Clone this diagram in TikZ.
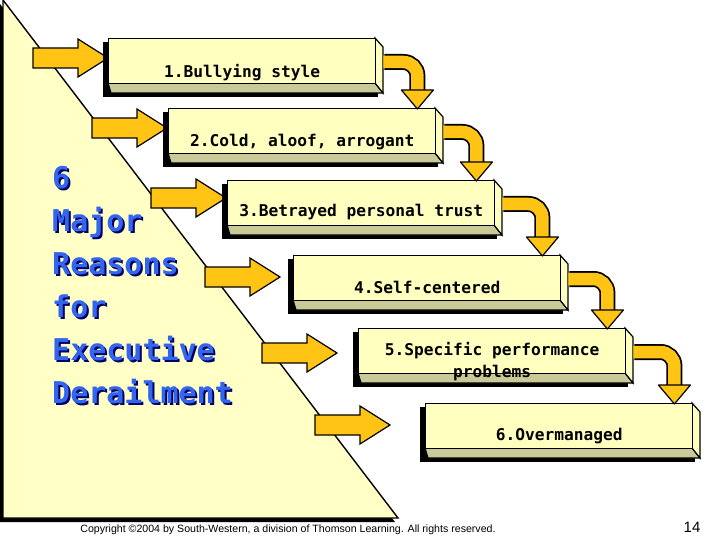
\documentclass[tikz,border=0pt]{standalone}
\usepackage{fontspec}
\setmainfont{Liberation Sans}
\newfontfamily\boxfont{DejaVu Sans Mono}
\newfontfamily\titlefont{DejaVu Sans Mono}
\usetikzlibrary{calc}
\definecolor{arrowyel}{HTML}{FFC414}
\definecolor{faceyel}{HTML}{FFFFC0}
\definecolor{bandkh}{HTML}{CACA98}
\definecolor{triyel}{HTML}{FFFFC6}
\definecolor{titleblue}{HTML}{3366EE}
\tikzset{
  face/.style={draw=black,line width=1.4pt,fill=faceyel,rectangle,minimum width=267pt,minimum height=45pt,inner sep=0pt,anchor=north west},
  blockarrow/.style={draw=black,line width=1.2pt,fill=arrowyel,line join=miter},
  lab/.style={font=\boxfont\bfseries\fontsize{16.2}{18}\selectfont,align=center,inner sep=0pt},
  ttl/.style={font=\titlefont\bfseries\fontsize{30}{43}\selectfont,align=left,anchor=north west,inner sep=0pt}
}
\begin{document}
\begin{tikzpicture}[x=1pt,y=-1pt]
\useasboundingbox (0,0) rectangle (720,540);
\fill[white] (0,0) rectangle (720,540);
% triangle
\fill[black] (0,4) -- (395,522) -- (0,522) -- cycle;
\filldraw[fill=triyel,draw=black,line width=1.4pt] (3,0) -- (398,518) -- (3,518) -- cycle;
% title (with its shadow)
\node[ttl,text=black!60!blue] (tsh) at (54,168) {6\\Major\\Reasons\\for\\Executive\\Derailment};
\node[ttl,text=titleblue] (title) at (52,166) {6\\Major\\Reasons\\for\\Executive\\Derailment};
% arrows
\foreach \i/\x/\y in {1/108/58,2/167/128,3/226/198,4/280/277,5/337/353,6/390/425}{
  \coordinate (a\i) at (\x,\y);
  \draw[blockarrow] ($(a\i)+(-75,-10)$) -- ($(a\i)+(-30,-10)$) -- ($(a\i)+(-30,-19)$) -- (a\i) -- ($(a\i)+(-30,19)$) -- ($(a\i)+(-30,10)$) -- ($(a\i)+(-75,10)$) -- cycle;
}
% boxes
\foreach \i/\x/\y in {1/108/38,2/168/108,3/227/180,4/293/255,5/358/328,6/425/403}{
  \fill[black] (\x-5,\y+4) rectangle (\x+267+3,\y+59);
  \filldraw[fill=bandkh,draw=black,line width=1.2pt] (\x,\y+45) -- (\x+267,\y+45) -- (\x+275,\y+55) -- (\x+3,\y+55) -- cycle;
  \filldraw[fill=faceyel,draw=black,line width=1.2pt] (\x+267,\y) -- (\x+275,\y+9) -- (\x+275,\y+55) -- (\x+267,\y+45) -- cycle;
  \node[face] (b\i) at (\x,\y) {};
}
\node[lab] (l1) at ($(b1.center)+(0,11)$) {1.Bullying style};
\node[lab] (l2) at ($(b2.center)+(0,11)$) {2.Cold, aloof, arrogant};
\node[lab] (l3) at ($(b3.center)+(0,9)$) {3.Betrayed personal trust};
\node[lab,font=\boxfont\bfseries\fontsize{16.2}{22}\selectfont] (l5) at ($(b5.center)+(0,10)$) {5.Specific performance\\problems};
\node[lab] (l4) at ($(b4.center)+(0,9)$) {4.Self-centered};
\node[lab] (l6) at ($(b6.center)+(0,10)$) {6.Overmanaged};
% bent connectors
\foreach \i/\j in {1/2,2/3,3/4,4/5,5/6}{
  \coordinate (s\i) at ($(b\i.north east)+(8,24)$);
  \coordinate (c\i) at ($(b\j.north east)+(-19,0)$);
  \draw[black,line width=16pt,rounded corners=14pt] (s\i) -- (s\i -| c\i) -- ($(c\i)+(0,-14)$);
  \draw[arrowyel,line width=12.5pt,rounded corners=14pt] ($(s\i)+(-1,0)$) -- (s\i -| c\i) -- ($(c\i)+(0,-13)$);
  \filldraw[fill=arrowyel,draw=black,line width=1.2pt,line join=round] ($(c\i)+(-16,-18)$) -- ($(c\i)+(16,-18)$) -- ($(c\i)+(0,1)$) -- cycle;
}
% footer
\node[font=\fontsize{10.6}{12}\selectfont,inner sep=0pt] (copy) at (288,530) {Copyright \textcopyright2004 by South-Western, a division of Thomson Learning. All rights reserved.};
\node[font=\fontsize{15}{17}\selectfont,inner sep=0pt] (pg) at (692,527) {14};
\end{tikzpicture}
\end{document}
